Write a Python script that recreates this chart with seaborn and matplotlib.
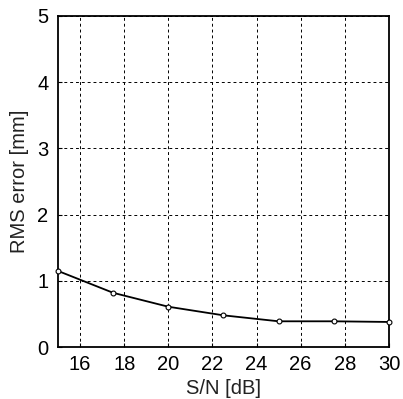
import matplotlib
matplotlib.use("Agg")
import matplotlib.pyplot as plt
import seaborn as sns
import pandas as pd

snr_db = [15, 17.5, 20, 22.5, 25, 27.5, 30]
rms_error = [1.15, 0.82, 0.61, 0.48, 0.39, 0.39, 0.38]
x_ticks = [16, 18, 20, 22, 24, 26, 28, 30]
y_ticks = [0, 1, 2, 3, 4, 5]

sns.set_theme(style="white")
plt.rcParams['font.family'] = ['Liberation Sans', 'DejaVu Sans']

df = pd.DataFrame({"snr": snr_db, "rms": rms_error})

fig = plt.figure(figsize=(4.03, 3.99), dpi=100)
ax = fig.add_axes([0.144, 0.130, 0.821, 0.830])
sns.lineplot(data=df, x="snr", y="rms", ax=ax, color="black", linewidth=1.3,
             marker="o", markersize=3.5, markerfacecolor="white",
             markeredgecolor="black", markeredgewidth=0.8, clip_on=False, zorder=5)

ax.set_xlim(15, 30)
ax.set_ylim(0, 5)
ax.set_xticks(x_ticks)
ax.set_yticks(y_ticks)
ax.grid(True, color="black", linestyle=(0, (3, 3)), linewidth=0.7)
ax.tick_params(direction="in", length=3, width=0.8, labelsize=14.5, colors="black",
               left=True, bottom=True, pad=7)
ax.tick_params(axis="x", pad=6)
for s in ax.spines.values():
    s.set_color("black")
    s.set_linewidth(1.3)
ax.set_xlabel("S/N [dB]", fontsize=14.5, color="#222222", labelpad=3)
ax.set_ylabel("RMS error [mm]", fontsize=14.5, color="#222222", labelpad=6)

fig.savefig("out.png", dpi=100)
